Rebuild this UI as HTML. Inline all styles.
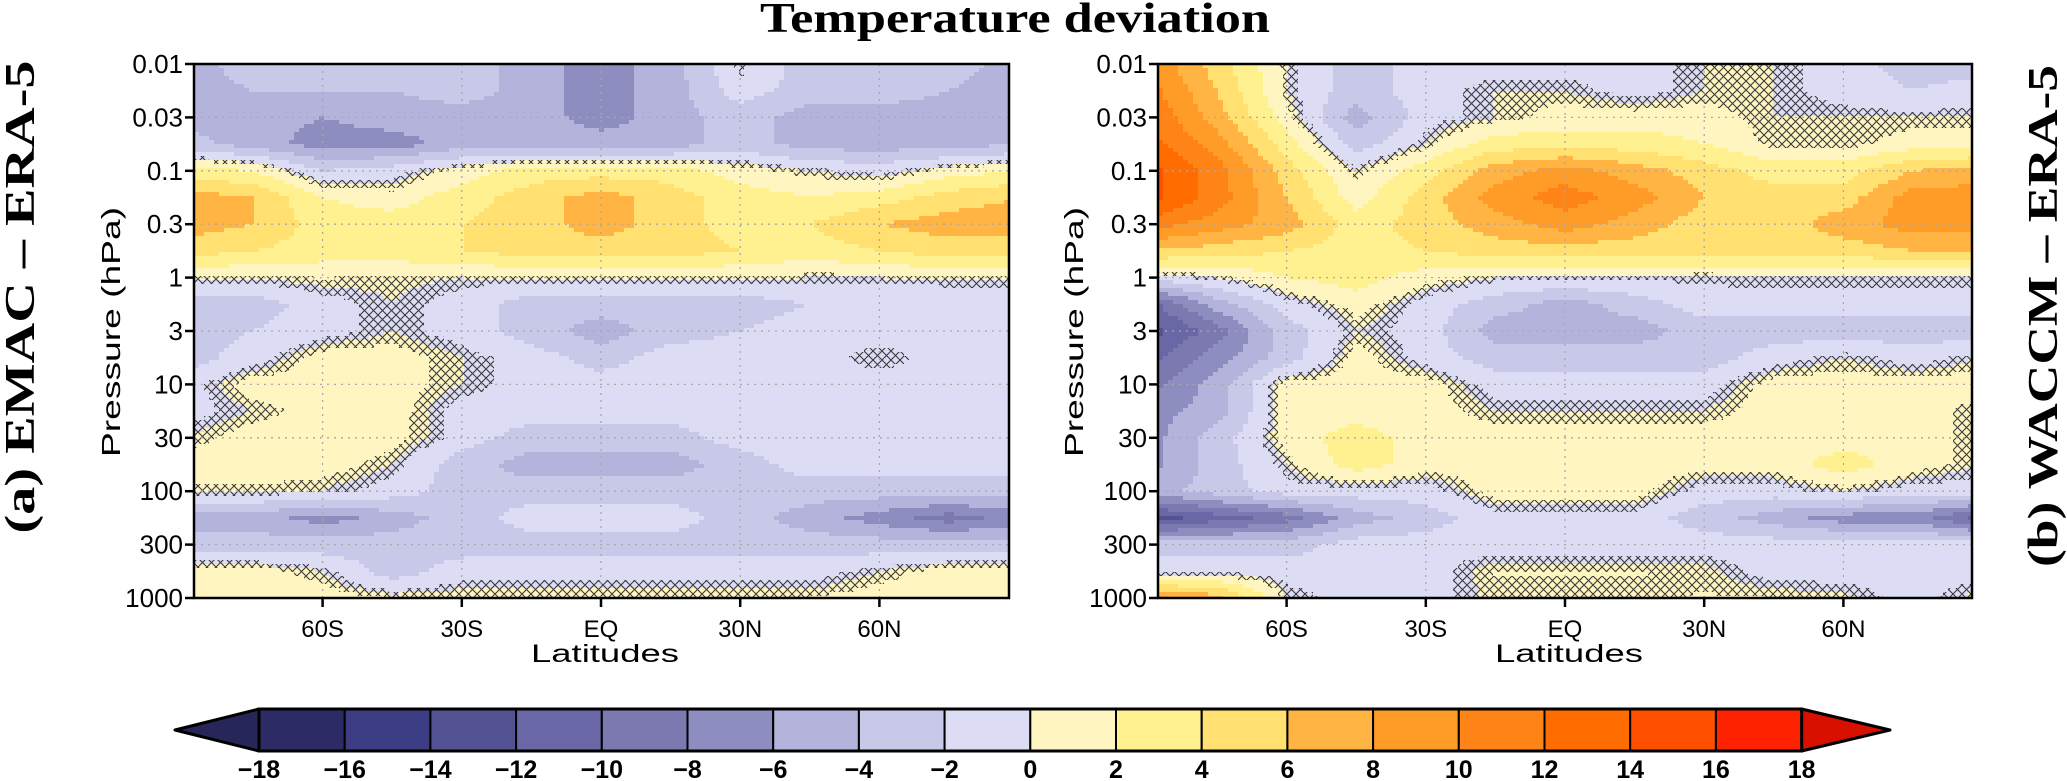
<!DOCTYPE html>
<html><head><meta charset="utf-8">
<style>
html,body{margin:0;padding:0;background:#fff;}
svg{display:block;}
text{font-family:"Liberation Sans",sans-serif;}
</style></head>
<body>
<svg id="fig" width="2067" height="781" viewBox="0 0 2067 781" xmlns="http://www.w3.org/2000/svg">
<defs>
<pattern id="hatch" patternUnits="userSpaceOnUse" width="9" height="9">
<path d="M0,0 L9,9 M9,0 L0,9" stroke="#3a3a3a" stroke-width="1.1" fill="none"/>
</pattern>
</defs>
<text x="1015" y="32" text-anchor="middle" font-weight="bold" font-size="42" textLength="510" lengthAdjust="spacingAndGlyphs" style="font-family:'Liberation Serif',serif">Temperature deviation</text>
<text transform="translate(34,297) rotate(-90)" text-anchor="middle" font-weight="bold" font-size="42" textLength="473" lengthAdjust="spacingAndGlyphs" style="font-family:'Liberation Serif',serif">(a) EMAC – ERA-5</text>
<text transform="translate(2057,316) rotate(-90)" text-anchor="middle" font-weight="bold" font-size="42" textLength="502" lengthAdjust="spacingAndGlyphs" style="font-family:'Liberation Serif',serif">(b) WACCM – ERA-5</text>
<g id="panels"></g>
<g id="colorbar"></g>
</svg>
<script>
const lats = [-90,-75,-60,-45,-30,-15,0,15,30,45,60,75,90];
const pLabels = ["0.01","0.03","0.1","0.3","1","3","10","30","100","300","1000"];
const latTicks = [-60,-30,0,30,60];
const latTickLabels = ["60S","30S","EQ","30N","60N"];
const cbLevels = [-18,-16,-14,-12,-10,-8,-6,-4,-2,0,2,4,6,8,10,12,14,16,18];
const cbColors = ["#262659","#2d2b66","#3d3d85","#535394","#6a67a6","#7b79b0","#8e8dc0","#b3b3db","#c8c8e8","#dcdcf5","#fff5c0","#fff090","#ffe070","#ffb444","#ff9c28","#ff8418","#ff6c00","#ff5000","#ff2200","#d81000"];
const dataA = [
[-5,-3,-3,-3,-3,-5,-7,-5,0,-3,-3,-3,-5],
[-5,-4,-4,-4,-3,-5,-7,-5,-1,-3,-3,-4,-5],
[-5,-5,-6,-5,-5,-5,-7,-5,-3,-5,-5,-5,-5],
[-3,-5,-7,-7,-5,-5,-5,-5,-3,-5,-5,-5,-4],
[3,2,-2,-1,1,3,3,3,1,0,-1,1,2],
[7,6,2,1,3,5,7,5,3,2,3,5,6],
[7,6,3,3,4,5,7,5,3,4,6,7,7],
[5,4,3,3,4,5,5,5,4,3,4,5,5],
[0,0.3,0.5,0.3,0,0.3,0.3,0.3,0.3,0,0,0.3,0.3],
[-3,-3,-1,0,-1,-3,-3,-3,-3,-2,-2,-2,-2],
[-3,-2,-1,0,-1,-3,-5,-3,-2,-1,-1,-1,-1],
[-3,-1,1,1,0,-1,-3,-1,-1,-1,0,-1,-1],
[-1,1,1,1,0,-1,-1,-1,-1,-1,-1,-1,-1],
[-1,0,1,1,-1,-1,-1,-1,-1,-1,-1,-1,-1],
[0,1,1,1,-1,-3,-3,-3,-1,-1,-1,-1,-1],
[1,1,1,0,-3,-5,-5,-5,-3,-1,-1,-1,-1],
[0.3,0.3,0,-1,-3,-3,-3,-3,-3,-3,-3,-3,-3],
[-5,-5,-7,-5,-3,-1,-1,-1,-3,-5,-7,-9,-7],
[-3,-3,-3,-3,-3,-3,-3,-3,-3,-3,-3,-3,-3],
[1,1,0,-3,-1,-1,-1,-1,-1,-1,0,1,1],
[1,1,1,0.5,0.5,0.5,0.5,0.5,0.5,0.5,1,1,1]
];
const dataB = [
[10,5,0,-3,-1,-1,-1,-1,0,0,-1,-3,-3],
[11,6,0,-3,-1,0,0,-1,0,0,-1,-2,-1],
[12,7,1,-5,-1,0,1,1,1,0,0,0,0],
[13,9,3,-3,0,3,3,3,2,0,0,1,1],
[15,11,5,0,3,7,9,7,5,3,3,6,7],
[15,11,6,1,5,9,11,9,6,5,5,9,9],
[11,9,7,3,5,7,9,7,5,5,7,9,9],
[6,5,4,3,4,5,5,5,5,5,5,6,6],
[-1,0,2,3,1,0,0,0,-0.3,0,0,0,0],
[-11,-5,-1,1,-1,-3,-5,-3,-1,-1,-1,-1,-1],
[-13,-9,-3,0,-1,-5,-5,-5,-3,-3,-3,-3,-3],
[-11,-7,-3,1,-1,-3,-3,-3,-3,-1,0,-1,0],
[-9,-5,1,1,1,-1,-1,-1,-1,1,1,1,1],
[-7,-5,1,1,1,0,0,0,0,1,1,1,0],
[-7,-3,1,3,1,1,1,1,1,1,1,1,0],
[-7,-3,0,3,1,1,1,1,1,1,3,1,0],
[-5,-3,-1,-1,-1,1,1,1,-1,-1,0,-1,-1],
[-13,-11,-9,-5,-3,-1,-1,-1,-3,-5,-7,-7,-11],
[-3,-3,-3,-1,-1,-1,-1,-1,-1,-1,-1,-1,-1],
[-1,-1,-1,-1,-1,0.5,0.5,0.5,0.3,-1,-1,-1,-1],
[9,7,0,-1,-1,0.3,0.3,0.3,0.5,0.5,0.3,-1,0.5]
];
const NS="http://www.w3.org/2000/svg";
function mk(tag,attrs,parent){const e=document.createElementNS(NS,tag);for(const k in attrs)e.setAttribute(k,attrs[k]);if(parent)parent.appendChild(e);return e;}
function colorFor(v){let i=Math.floor(v/2)+10; if(i<0)i=0; if(i>19)i=19; return cbColors[i];}
function sample(data,lat,t){
  let fx=(lat-lats[0])/15; fx=Math.max(0,Math.min(lats.length-1.0001,fx));
  let fy=t*2; fy=Math.max(0,Math.min(data.length-1.0001,fy));
  const i=Math.floor(fx),j=Math.floor(fy),ax=fx-i,ay=fy-j;
  const a=data[j][i],b=data[j][i+1],c=data[j+1][i],d=data[j+1][i+1];
  return (a*(1-ax)+b*ax)*(1-ay)+(c*(1-ax)+d*ax)*ay;
}
function panel(cfg){
  const g=mk("g",{},document.getElementById("panels"));
  
  
  const L=cfg.left,R=cfg.right,T=64,B=598,eq=cfg.eq,k=139.2/30;
  const xOf=lat=>eq+lat*k, yOf=t=>T+t*(B-T)/10;
  const latOf=x=>(x-eq)/k, tOf=y=>(y-T)*10/(B-T);
  const field=mk("g",{"shape-rendering":"crispEdges"},g);
  
  
  const hat=mk("g",{},g);
  
  
  const sx=5,sy=4;
  const nx=Math.ceil((R-L)/sx);
  for(let y=T;y<B;y+=sy){
    const h=Math.min(sy,B-y);
    let runC=null,runX=L,hRun=null;
    for(let ix=0;ix<=nx;ix++){
      const x=Math.min(L+ix*sx,R);
      let c=null,hz=false;
      if(ix<nx){const cx=Math.min(x+sx/2,R);const v=sample(cfg.data,latOf(cx),tOf(y+h/2)); c=colorFor(v); hz=Math.abs(v)<0.45;}
      if(c!==runC){
        if(runC){mk("rect",{x:runX,y:y,width:x-runX+0.5,height:h+0.6,fill:runC},field);}
        runC=c;runX=x;
      }
      if(hz&&hRun===null)hRun=x;
      if(!hz&&hRun!==null){mk("rect",{x:hRun,y:y,width:x-hRun,height:h,fill:"url(#hatch)"},hat);hRun=null;}
    }
  }
  const grid=mk("g",{stroke:"#a8a8a8","stroke-width":1.3,"stroke-dasharray":"2,5"},g);
  
  
  latTicks.forEach(l=>mk("line",{x1:xOf(l),x2:xOf(l),y1:T,y2:B},grid));
  for(let i=1;i<pLabels.length-1;i++) mk("line",{x1:L,x2:R,y1:yOf(i),y2:yOf(i)},grid);
  const fr=mk("rect",{x:L,y:T,width:R-L,height:B-T,fill:"none",stroke:"#000","stroke-width":2.5},g);
  
  
  pLabels.forEach((p,i)=>{
    mk("line",{x1:L-9,x2:L,y1:yOf(i),y2:yOf(i),stroke:"#000","stroke-width":2.5},g);
    const t=mk("text",{x:L-11,y:yOf(i)+9,"text-anchor":"end","font-size":26},g);
    
    
    t.textContent=p;
  });
  latTicks.forEach((l,i)=>{
    mk("line",{x1:xOf(l),x2:xOf(l),y1:B,y2:B+9,stroke:"#000","stroke-width":2.5},g);
    const t=mk("text",{x:xOf(l),y:637,"text-anchor":"middle","font-size":24},g);
    
    
    t.textContent=latTickLabels[i];
  });
  const xl=mk("text",{x:eq+4,y:662,"text-anchor":"middle","font-size":25,"textLength":148,"lengthAdjust":"spacingAndGlyphs"},g);
  
  
  xl.textContent="Latitudes";
  const yl=mk("text",{transform:`translate(${cfg.ylx},332) rotate(-90)`,"text-anchor":"middle","font-size":26,"textLength":250,"lengthAdjust":"spacingAndGlyphs"},g);
  
  
  yl.textContent="Pressure  (hPa)";
}
panel({name:"panel-a-emac",left:194,right:1009,eq:601,data:dataA,ylx:120});
panel({name:"panel-b-waccm",left:1158,right:1972,eq:1565,data:dataB,ylx:1083});
(function(){
  const cb=document.getElementById("colorbar");
  const x0=259,w=85.7,T=709,B=751,mid=730;
  const n=cbLevels.length-1;
  const lt=mk("polygon",{points:`${x0},${T} ${x0},${B} 175,${mid}`,fill:cbColors[0],stroke:"#000","stroke-width":3,"stroke-linejoin":"round"},cb);
  
  
  const xe=x0+n*w;
  const rt=mk("polygon",{points:`${xe},${T} ${xe},${B} 1890,${mid}`,fill:cbColors[19],stroke:"#000","stroke-width":3,"stroke-linejoin":"round"},cb);
  
  
  for(let i=0;i<n;i++){
    const r=mk("rect",{x:x0+i*w,y:T,width:w,height:B-T,fill:cbColors[i+1],stroke:"#000","stroke-width":2},cb);
    
    
  }
  mk("rect",{x:x0,y:T,width:n*w,height:B-T,fill:"none",stroke:"#000","stroke-width":3},cb);
  cbLevels.forEach((v,i)=>{
    const t=mk("text",{x:x0+i*w,y:778,"text-anchor":"middle","font-size":25,"font-weight":"bold"},cb);
    
    
    t.textContent=(v<0?"\u2212":"")+Math.abs(v);
  });
})();
</script>
</body></html>
